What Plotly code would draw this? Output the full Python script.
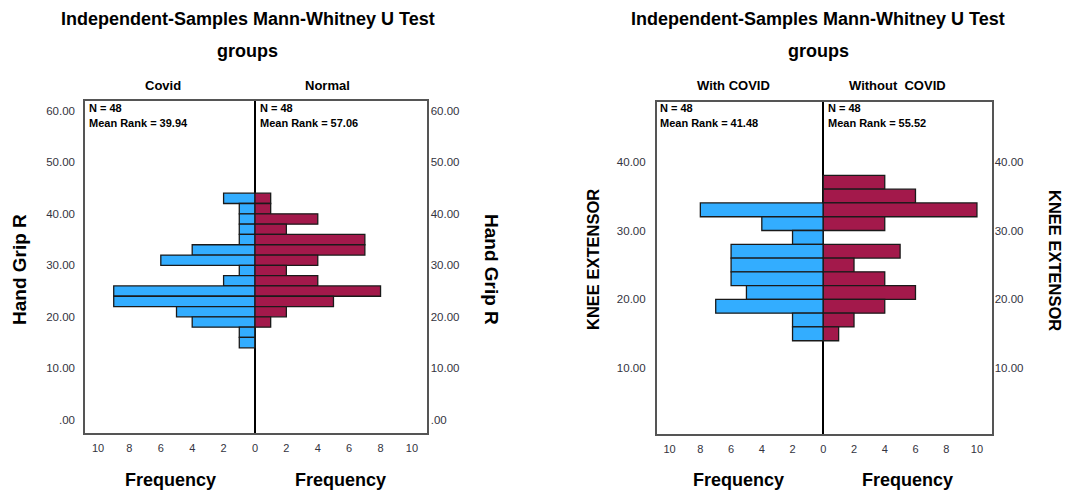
import plotly.graph_objects as go

W, H = 1070, 493

# ---------------- data ----------------
# Left panel: Hand Grip R, bins of width 2 (centres, top to bottom)
hg_bins = [43, 41, 39, 37, 35, 33, 31, 29, 27, 25, 23, 21, 19, 17, 15]
hg_covid = [2, 1, 1, 1, 1, 4, 6, 1, 2, 9, 9, 5, 4, 1, 1]
hg_normal = [1, 1, 4, 2, 7, 7, 4, 2, 4, 8, 5, 2, 1, 0, 0]
hg_groups = ["Covid", "Normal"]
hg_n = [48, 48]
hg_rank = ["39.94", "57.06"]
hg_yticks = [0, 10, 20, 30, 40, 50, 60]
hg_yticktext = [".00", "10.00", "20.00", "30.00", "40.00", "50.00", "60.00"]

# Right panel: KNEE EXTENSOR, bins of width 2
ke_bins = [37, 35, 33, 31, 29, 27, 25, 23, 21, 19, 17, 15]
ke_with = [0, 0, 8, 4, 2, 6, 6, 6, 5, 7, 2, 2]
ke_without = [4, 6, 10, 4, 0, 5, 2, 4, 6, 4, 2, 1]
ke_groups = ["With COVID", "Without  COVID"]
ke_n = [48, 48]
ke_rank = ["41.48", "55.52"]
ke_yticks = [10, 20, 30, 40]
ke_yticktext = ["10.00", "20.00", "30.00", "40.00"]

freq_ticks = [-10, -8, -6, -4, -2, 0, 2, 4, 6, 8, 10]
freq_text = [str(abs(v)) for v in freq_ticks]
bin_width = 2

BLUE = "#33adff"
RED = "#a3194b"
FONT = "Arial, Liberation Sans, sans-serif"
TICKC = "#333340"
FRAME = "#555555"

fig = go.Figure()

bar_line = dict(color="#1a1a1a", width=1.3)
fig.add_trace(go.Bar(y=hg_bins, x=[-v for v in hg_covid], width=bin_width,
                     orientation="h", marker=dict(color=BLUE, line=bar_line),
                     xaxis="x", yaxis="y", name=hg_groups[0]))
fig.add_trace(go.Bar(y=hg_bins, x=hg_normal, width=bin_width,
                     orientation="h", marker=dict(color=RED, line=bar_line),
                     xaxis="x", yaxis="y2", name=hg_groups[1]))
fig.add_trace(go.Bar(y=ke_bins, x=[-v for v in ke_with], width=bin_width,
                     orientation="h", marker=dict(color=BLUE, line=bar_line),
                     xaxis="x2", yaxis="y3", name=ke_groups[0]))
fig.add_trace(go.Bar(y=ke_bins, x=ke_without, width=bin_width,
                     orientation="h", marker=dict(color=RED, line=bar_line),
                     xaxis="x2", yaxis="y4", name=ke_groups[1]))


def px_x(x):
    return x / W


def px_y(y):
    return 1 - y / H


hg_yrange = [-2.6, 61.9]
ke_yrange = [0.42, 48.7]

xcommon = dict(tickvals=freq_ticks, ticktext=freq_text, showgrid=False,
               zeroline=True, zerolinecolor="black", zerolinewidth=1.5,
               showline=True, mirror=True, linecolor=FRAME, linewidth=1.5,
               ticks="", ticklabelstandoff=4,
               tickfont=dict(family=FONT, size=11, color=TICKC), fixedrange=True)
ycommon = dict(showgrid=False, zeroline=False, ticks="", color=TICKC,
               tickfont=dict(family=FONT, size=11.5, color=TICKC), fixedrange=True)

fig.update_layout(
    width=W, height=H,
    margin=dict(l=0, r=0, t=0, b=0),
    paper_bgcolor="white", plot_bgcolor="white",
    showlegend=False, barmode="overlay",
    xaxis=dict(domain=[px_x(85), px_x(426.7)], range=[-10.83, 10.94], anchor="y", **xcommon),
    yaxis=dict(domain=[px_y(433.3), px_y(101)], range=hg_yrange, anchor="x",
               tickvals=hg_yticks, ticktext=hg_yticktext, showline=True, mirror=True,
               linecolor=FRAME, linewidth=1.5, ticklabelstandoff=6, **ycommon),
    yaxis2=dict(overlaying="y", side="right", anchor="x", range=hg_yrange,
                tickvals=hg_yticks, ticktext=hg_yticktext, showline=False,
                ticklabelstandoff=3, **ycommon),
    xaxis2=dict(domain=[px_x(656.7), px_x(991.7)], range=[-10.84, 10.96], anchor="y3", **xcommon),
    yaxis3=dict(domain=[px_y(434.3), px_y(101.7)], range=ke_yrange, anchor="x2",
                tickvals=ke_yticks, ticktext=ke_yticktext, showline=True, mirror=True,
                linecolor=FRAME, linewidth=1.5, ticklabelstandoff=7, **ycommon),
    yaxis4=dict(overlaying="y3", side="right", anchor="x2", range=ke_yrange,
                tickvals=ke_yticks, ticktext=ke_yticktext, showline=False,
                ticklabelstandoff=2, **ycommon),
)


def ann(text, x, y, size, bold=True, angle=0, xanchor="center", yanchor="middle", color="black"):
    t = f"<b>{text}</b>" if bold else text
    fig.add_annotation(text=t, x=px_x(x), y=px_y(y), xref="paper", yref="paper",
                       showarrow=False, xanchor=xanchor, yanchor=yanchor, textangle=angle,
                       font=dict(family=FONT, size=size, color=color))


title = "Independent-Samples Mann-Whitney U Test"
# Left panel texts
ann(title, 248, 19, 18)
ann("groups", 247, 51, 18)
ann(hg_groups[0], 163, 86, 13)
ann(hg_groups[1], 327, 86, 13)
ann(f"N = {hg_n[0]}", 87, 108, 11, xanchor="left")
ann(f"Mean Rank = {hg_rank[0]}", 87, 123, 11, xanchor="left")
ann(f"N = {hg_n[1]}", 257.5, 108, 11, xanchor="left")
ann(f"Mean Rank = {hg_rank[1]}", 257.5, 123, 11, xanchor="left")
ann("Hand Grip R", 19, 270, 19, angle=-90)
ann("Hand Grip R", 492, 269, 19, angle=90)
ann("Frequency", 170, 480, 18)
ann("Frequency", 340, 480, 18)

# Right panel texts
ann(title, 818, 19, 18)
ann("groups", 818, 51, 18)
ann(ke_groups[0], 733, 86, 13)
ann(ke_groups[1], 897, 86, 13)
ann(f"N = {ke_n[0]}", 658, 108, 11, xanchor="left")
ann(f"Mean Rank = {ke_rank[0]}", 658, 123, 11, xanchor="left")
ann(f"N = {ke_n[1]}", 826, 108, 11, xanchor="left")
ann(f"Mean Rank = {ke_rank[1]}", 826, 123, 11, xanchor="left")
ann("KNEE EXTENSOR", 593, 260, 16.5, angle=-90)
ann("KNEE EXTENSOR", 1055, 260, 16.5, angle=90)
ann("Frequency", 738, 480, 18)
ann("Frequency", 907, 480, 18)

fig.write_html("out.html", config={"displayModeBar": False},
               post_script="document.body.style.margin='0';document.body.style.overflow='hidden';")
